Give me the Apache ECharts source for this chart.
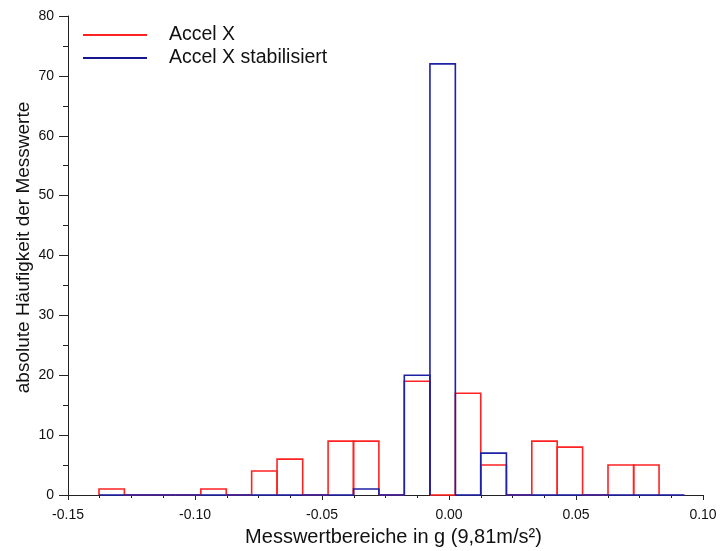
<!DOCTYPE html>
<html>
<head>
<meta charset="utf-8">
<script src="https://cdn.jsdelivr.net/npm/echarts@6/dist/echarts.min.js"></script>
<style>
  html, body { margin: 0; padding: 0; background: #fff; }
  #chart { width: 720px; height: 551px; }
</style>
</head>
<body>
<div id="chart"></div>
<script>
// Klassengrenzen (g)
var binEdges = [-0.1378, -0.1278, -0.1177, -0.1077, -0.0977, -0.0877, -0.0777, -0.0677,
                -0.0576, -0.0476, -0.0376, -0.0276, -0.0176, -0.0075, 0.0025, 0.0125,
                0.0226, 0.0326, 0.0426, 0.0526, 0.0626, 0.0727, 0.0827, 0.0927];

// Häufigkeiten pro Klasse
var accelX     = [1, 0, 0, 0, 1, 0, 4, 6, 0, 9, 9, 0, 19, 0, 17, 5, 0, 9, 8, 0, 5, 5];
var accelXStab = [0, 0, 0, 0, 0, 0, 0, 0, 0, 0, 1, 0, 20, 72, 0, 7, 0, 0, 0, 0, 0, 0, 0];

var seriesNames = ['Accel X', 'Accel X stabilisiert'];
var colRed = '#ff2222';
var colBlue = '#2020a4';

function toBins(counts) {
    return counts.map(function (c, i) { return [binEdges[i], binEdges[i + 1], c]; });
}

// Balken ohne Boden zeichnen (wie histplot)
function histItem(color) {
    return function (params, api) {
        var x0 = api.value(0), x1 = api.value(1), h = api.value(2);
        var pts = [api.coord([x0, 0]), api.coord([x0, h]), api.coord([x1, h]), api.coord([x1, 0])];
        return {
            type: 'polyline',
            shape: { points: pts },
            style: { stroke: color, fill: null, lineWidth: 1.6 }
        };
    };
}

var font = '"Liberation Sans", Arial, sans-serif';
var chart = echarts.init(document.getElementById('chart'));

var option = {
    animation: false,
    backgroundColor: '#fff',
    textStyle: { fontFamily: font },
    grid: { left: 68, right: 17, top: 16, bottom: 56, containLabel: false, outerBoundsMode: 'none' },
    legend: {
        orient: 'vertical',
        left: 83,
        top: 25,
        padding: 0,
        itemWidth: 64,
        itemHeight: 2,
        itemGap: 3,
        icon: 'rect',
        textStyle: { fontSize: 19.5, lineHeight: 19, color: '#111', fontFamily: font, padding: [0, 0, 0, 17] },
        data: [
            { name: seriesNames[0], itemStyle: { color: colRed } },
            { name: seriesNames[1], itemStyle: { color: '#16168e' } }
        ]
    },
    xAxis: {
        type: 'value',
        min: -0.15,
        max: 0.10,
        interval: 0.05,
        name: 'Messwertbereiche in g (9,81m/s²)',
        nameLocation: 'middle',
        nameGap: 32,
        nameMoveOverlap: false,
        nameTextStyle: { fontSize: 20, color: '#111', fontFamily: font, padding: [0, 0, 0, 16] },
        axisLine: { onZero: false, lineStyle: { color: '#222', width: 1 } },
        axisTick: { length: 5, lineStyle: { color: '#222' } },
        minorTick: { show: true, splitNumber: 4, length: 3, lineStyle: { color: '#222' } },
        splitLine: { show: false },
        axisLabel: {
            fontSize: 14, color: '#111', margin: 13,
            formatter: function (v) { return v.toFixed(2); }
        }
    },
    yAxis: {
        type: 'value',
        min: 0,
        max: 80,
        interval: 10,
        name: 'absolute Häufigkeit der Messwerte',
        nameLocation: 'middle',
        nameGap: 35,
        nameMoveOverlap: false,
        nameTextStyle: { fontSize: 19, color: '#111', fontFamily: font, padding: [0, 0, 0, 16] },
        axisLine: { show: true, onZero: false, lineStyle: { color: '#222', width: 1 } },
        axisTick: { length: 9, lineStyle: { color: '#222' } },
        minorTick: { show: true, splitNumber: 2, length: 5, lineStyle: { color: '#222' } },
        splitLine: { show: false },
        axisLabel: { fontSize: 14, color: '#111', margin: 14 }
    },
    series: [
        {
            name: seriesNames[0],
            type: 'custom',
            renderItem: histItem(colRed),
            itemStyle: { color: colRed },
            encode: { x: [0, 1], y: 2 },
            data: toBins(accelX),
            z: 2
        },
        {
            name: seriesNames[1],
            type: 'custom',
            renderItem: histItem(colBlue),
            itemStyle: { color: colBlue },
            encode: { x: [0, 1], y: 2 },
            data: toBins(accelXStab),
            z: 3
        }
    ]
};

chart.setOption(option);
</script>
</body>
</html>
